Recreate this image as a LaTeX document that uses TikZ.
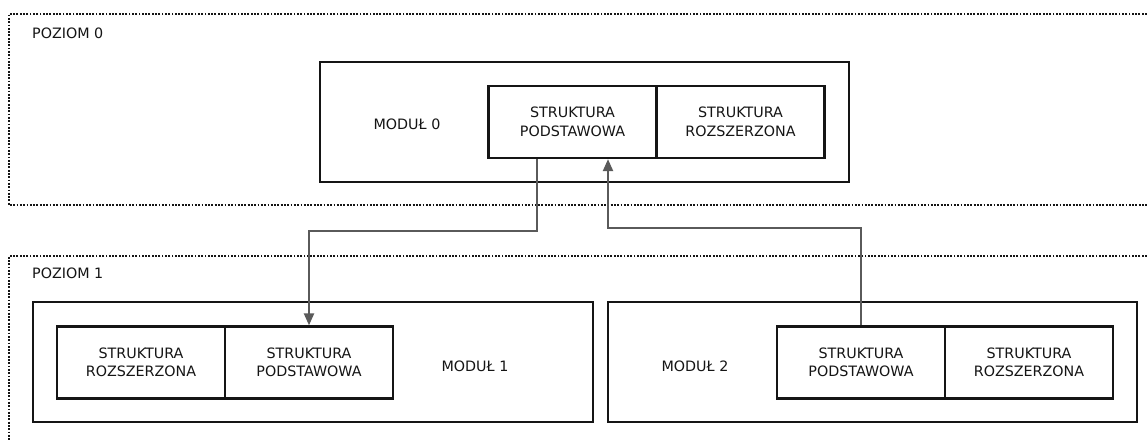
\documentclass[tikz,border=0pt]{standalone}
\usepackage{fontspec}
\setmainfont{DejaVu Sans}
\usetikzlibrary{arrows.meta}
\definecolor{ink}{HTML}{151515}
\definecolor{link}{HTML}{5A5A5A}
\tikzset{
  level/.style={draw=ink, line width=2pt, dash pattern=on 1.8pt off 1.5pt},
  modbox/.style={draw=ink, line width=2.3pt, rectangle, minimum width=#1, minimum height=120pt, inner sep=0pt},
  structbox/.style={draw=ink, line width=2.3pt, rectangle, minimum width=168pt, minimum height=72pt,
    inner sep=0pt, align=center, font=\fontsize{14.3}{18.5}\selectfont, text=ink},
  lbl/.style={font=\fontsize{14.3}{17}\selectfont, text=ink, inner sep=0pt},
  arr/.style={draw=link, line width=2.2pt, -{Triangle[length=12pt,width=10pt]}},
}
\begin{document}
\begin{tikzpicture}[x=1pt,y=-1pt]
\useasboundingbox (0,0) rectangle (1148,441);
\clip (0,0) rectangle (1148,441);
\fill[white] (0,0) rectangle (1148,441);

% level frames
\draw[level] (1160,14) -- (9,14) -- (9,205) -- (1160,205);
\draw[level] (1160,256) -- (9,256) -- (9,460);
\node[lbl, anchor=west] (poz0) at (32,33) {POZIOM 0};
\node[lbl, anchor=west] (poz1) at (32,273) {POZIOM 1};

% module 0
\node[modbox=529pt] (m0) at (584.5,122) {};
\node[lbl] (m0t) at (407,124) {MODUŁ 0};
\node[structbox] (m0p) at (572.5,122) {STRUKTURA\\PODSTAWOWA};
\node[structbox] (m0r) at (740.5,122) {STRUKTURA\\ROZSZERZONA};

% module 1
\node[modbox=560pt] (m1) at (313,362) {};
\node[structbox] (m1r) at (141,362.5) {STRUKTURA\\ROZSZERZONA};
\node[structbox] (m1p) at (309,362.5) {STRUKTURA\\PODSTAWOWA};
\node[lbl] (m1t) at (475,366) {MODUŁ 1};

% module 2
\node[modbox=529pt] (m2) at (872.5,362) {};
\node[lbl] (m2t) at (695,366) {MODUŁ 2};
\node[structbox] (m2p) at (861,362.5) {STRUKTURA\\PODSTAWOWA};
\node[structbox] (m2r) at (1029,362.5) {STRUKTURA\\ROZSZERZONA};

% links between the base structures
\draw[arr] ([xshift=-35.5pt]m0p.south) -- ++(0,72) -| (m1p.north);
\draw[arr] (m2p.north) -- ++(0,-97) -| ([xshift=35.5pt]m0p.south);
\end{tikzpicture}
\end{document}
